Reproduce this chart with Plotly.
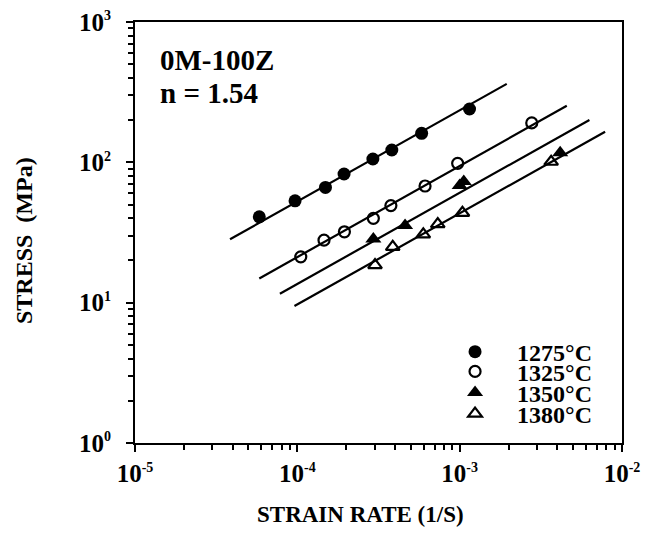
import numpy as np
import plotly.graph_objects as go

# Stress exponent quoted on the chart; fit lines use slope 1/n in log-log space
n_exp = 1.54

temps = ["1275°C", "1325°C", "1350°C", "1380°C"]

rate_1275 = [5.83e-5, 9.68e-5, 1.49e-4, 1.94e-4, 2.92e-4, 3.82e-4, 5.83e-4, 1.15e-3]
stress_1275 = [40.9, 53.2, 66.3, 82.6, 105.6, 122.4, 161.0, 240.0]

rate_1325 = [1.05e-4, 1.46e-4, 1.95e-4, 2.94e-4, 3.77e-4, 6.12e-4, 9.72e-4, 2.78e-3]
stress_1325 = [21.2, 27.9, 32.0, 39.9, 49.2, 67.8, 98.4, 191.0]

rate_1350 = [2.94e-4, 4.61e-4, 1.00e-3, 1.06e-3, 4.16e-3]
stress_1350 = [28.4, 35.5, 68.3, 73.0, 117.0]

rate_1380 = [3.01e-4, 3.87e-4, 5.97e-4, 7.33e-4, 1.04e-3, 3.66e-3]
stress_1380 = [18.5, 25.0, 30.7, 36.3, 43.7, 101.0]

# strain-rate span covered by each fitted line
fit_span = [
    [3.85e-5, 1.95e-3],
    [5.83e-5, 4.57e-3],
    [7.81e-5, 6.30e-3],
    [9.60e-5, 7.87e-3],
]

x_tickvals = [1e-5, 1e-4, 1e-3, 1e-2]
x_ticktext = ["-5", "-4", "-3", "-2"]
y_tickvals = [1, 10, 100, 1000]
y_ticktext = ["0", "1", "2", "3"]

rates = [rate_1275, rate_1325, rate_1350, rate_1380]
stresses = [stress_1275, stress_1325, stress_1350, stress_1380]
symbols = ["circle", "circle-open", "triangle-up", "triangle-up-open"]
marker_sizes = [13, 11, 14, 12]
legend_ids = ["legend", "legend2", "legend3", "legend4"]

FONT = "Liberation Serif"


def power_label(exp):
    return "10<sup><span style='font-size:14px'>%s</span></sup>" % exp


def minor_ticks(lo_exp, hi_exp):
    return [m * 10.0 ** e for e in range(lo_exp, hi_exp) for m in range(2, 10)]


fig = go.Figure()

slope = 1.0 / n_exp
for i in range(4):
    lx = np.log10(rates[i])
    ly = np.log10(stresses[i])
    intercept = float(np.mean(ly - slope * lx))
    xs = np.array(fit_span[i])
    ys = 10 ** (intercept + slope * np.log10(xs))
    fig.add_trace(go.Scatter(
        x=xs, y=ys, mode="lines",
        line=dict(color="black", width=2.2),
        showlegend=False, hoverinfo="skip",
    ))

for i in range(4):
    open_sym = symbols[i].endswith("open")
    fig.add_trace(go.Scatter(
        x=rates[i], y=stresses[i], mode="markers", name=temps[i],
        legend=legend_ids[i],
        marker=dict(
            symbol=symbols[i], size=marker_sizes[i],
            color="black",
            line=dict(color="black", width=2.2 if open_sym else 0),
        ),
    ))

axis_common = dict(
    type="log",
    showline=True, linecolor="black", linewidth=2, mirror=True,
    showgrid=False, zeroline=False,
    ticks="outside", ticklen=7, tickwidth=1.8, tickcolor="black",
    tickfont=dict(family=FONT, size=25, color="black", weight="bold"),
    tickmode="array",
)

minor_style = dict(ticks="outside", ticklen=5, tickwidth=1.5, tickcolor="black",
                   tickmode="array", showgrid=False)

fig.update_xaxes(
    **axis_common, range=[-5, -2],
    tickvals=x_tickvals, ticktext=[power_label(t) for t in x_ticktext],
    minor=dict(**minor_style, tickvals=minor_ticks(-5, -2)),
    ticklabelstandoff=0,
)
fig.update_yaxes(
    **axis_common, range=[0, 3],
    tickvals=y_tickvals, ticktext=[power_label(t) for t in y_ticktext],
    minor=dict(**minor_style, tickvals=minor_ticks(0, 3)),
    ticklabelstandoff=10,
)

legend_y = [0.216, 0.169, 0.119, 0.069]
legend_layout = {}
for i, lid in enumerate(legend_ids):
    legend_layout[lid] = dict(
        x=0.612, y=legend_y[i], xanchor="left", yanchor="middle",
        bgcolor="rgba(0,0,0,0)", borderwidth=0,
        font=dict(family=FONT, size=24, color="black", weight="bold"),
        itemwidth=74, itemsizing="trace",
    )

text_font = dict(family=FONT, color="black", weight="bold")
annotations = [
    dict(text="0M-100Z", x=0.047, y=0.910, xref="paper", yref="paper",
         xanchor="left", yanchor="middle", showarrow=False,
         font=dict(size=29, **text_font)),
    dict(text="n = 1.54", x=0.047, y=0.832, xref="paper", yref="paper",
         xanchor="left", yanchor="middle", showarrow=False,
         font=dict(size=29, **text_font)),
    dict(text="STRAIN RATE (1/S)", x=0.464, y=-0.171, xref="paper", yref="paper",
         xanchor="center", yanchor="middle", showarrow=False,
         font=dict(size=23, **text_font)),
    dict(text="STRESS  (MPa)", x=-0.228, y=0.482, xref="paper", yref="paper",
         xanchor="center", yanchor="middle", showarrow=False, textangle=-90,
         font=dict(size=24, **text_font)),
]

fig.update_layout(
    width=652, height=533,
    margin=dict(l=135, r=30, t=22, b=90, autoexpand=False),
    paper_bgcolor="white", plot_bgcolor="white",
    annotations=annotations,
    **legend_layout,
)

fig.write_html("out.html")
